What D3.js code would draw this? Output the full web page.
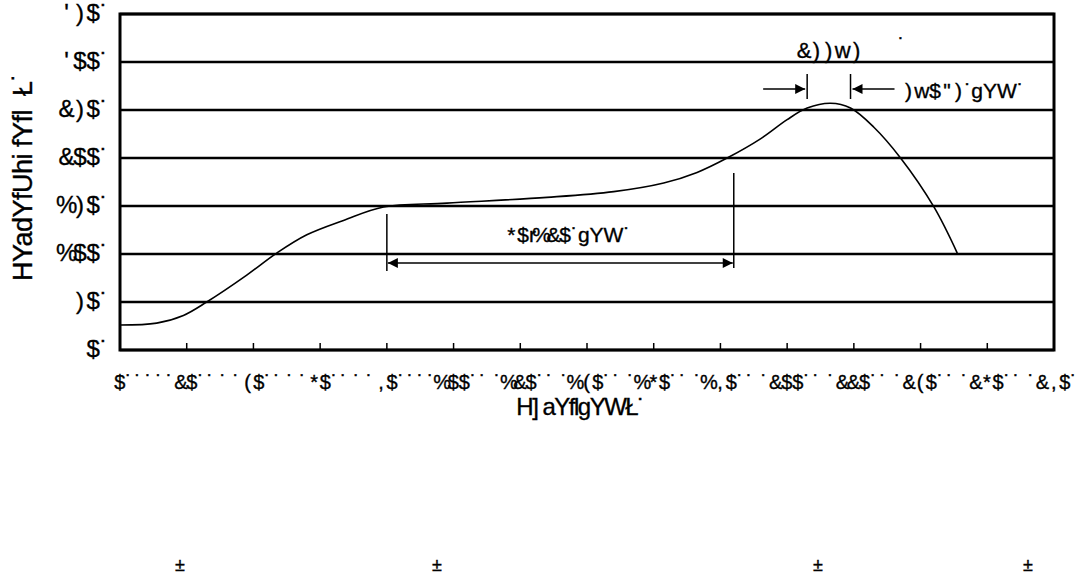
<!DOCTYPE html>
<html>
<head>
<meta charset="utf-8">
<script src="https://cdn.jsdelivr.net/npm/d3@7"></script>
<style>
  body { margin: 0; background: #fff; }
  text { font-family: "Liberation Sans", Arial, sans-serif; fill: #000; stroke: #000; stroke-width: 0.35; white-space: pre; }
</style>
</head>
<body>
<div id="chart"></div>
<script>
// curve: time, temperature
var times = [0, 11, 19, 26, 38, 47, 56, 67, 79, 98, 128, 148, 163, 173, 182, 192, 200, 206, 213, 219, 226, 234, 244, 251]
var temps = [26, 28, 36, 50, 78, 101, 120, 135, 149, 153, 159, 165, 174, 185, 200, 220, 240, 252, 257, 252, 232, 200, 149, 101]

var xTicks = [0, 20, 40, 60, 80, 100, 120, 140, 160, 180, 200, 220, 240, 260, 280]
var yTicks = [0, 50, 100, 150, 200, 250, 300, 350]

var soakSpan = [80, 184]
var soakLabel = '*$r%&$˙gYW˙'
var peakSpan = [206, 219]
var peakLabel = ')w$")˙gYW˙'
var peakTemp = '&))w)'
var xTitle = 'H] aYflgYWŁ˙'
var yTitle = 'HYadYfUhi fYfl  Ł˙'
var footMarks = ['±', '±', '±', '±']
var footPos = [180, 437, 818, 1028]

;(function () {
    var width = 1083, height = 576
    var left = 120, right = 1054, top = 14, bottom = 350

    // the source font shows digits as other glyphs (code point - 12),
    // each still sitting in a fixed digit-width cell
    var cellChars = '$%&\'()*+,-"'
    function glyphs(n) {
        return String(n).replace(/\d/g, function (c) {
            return String.fromCharCode(c.charCodeAt(0) - 12)
        })
    }

    var svg = d3.select('#chart')
        .append('svg')
        .attr('width', width)
        .attr('height', height)

    svg.append('rect').attr('width', width).attr('height', height).attr('fill', '#fff')

    var cache = {}
    function measure(ch, size) {
        var key = ch + size
        if (cache[key] == null) {
            var t = svg.append('text').attr('font-size', size).text(ch)
            cache[key] = t.node().getComputedTextLength()
            t.remove()
        }
        return cache[key]
    }

    // write a string glyph by glyph, digit glyphs centred in their cells
    function cellText(g, str, x0, y0, size, anchor) {
        var cell = size * 0.556, cur = 0, pos = []
        str.split('').forEach(function (ch) {
            var w = cellChars.indexOf(ch) >= 0 ? cell : measure(ch, size)
            pos.push(cur + w / 2)
            cur += w
        })
        var start = anchor === 'end' ? x0 - cur : anchor === 'middle' ? x0 - cur / 2 : x0
        g.append('text')
            .attr('x', pos.map(function (p) { return (start + p).toFixed(1) }).join(' '))
            .attr('y', y0)
            .attr('text-anchor', 'middle')
            .attr('font-size', size)
            .text(str)
        return [start, start + cur]
    }

    var x = d3.scaleLinear().domain([0, 280]).range([left, right])
    var y = d3.scaleLinear().domain([0, 350]).range([bottom, top])

    var defs = svg.append('defs')
    defs.append('marker')
        .attr('id', 'head')
        .attr('viewBox', '0 0 10 10')
        .attr('refX', 10).attr('refY', 5)
        .attr('markerWidth', 15).attr('markerHeight', 10)
        .attr('markerUnits', 'userSpaceOnUse')
        .attr('orient', 'auto-start-reverse')
        .append('path')
        .attr('d', 'M0,0L10,5L0,10Z')
        .attr('fill', '#000')

    // gridlines
    svg.selectAll('.grid')
        .data(yTicks)
        .enter().append('line')
        .attr('class', 'grid')
        .attr('x1', left).attr('x2', right)
        .attr('y1', function (d) { return y(d) })
        .attr('y2', function (d) { return y(d) })
        .attr('stroke', '#000')
        .attr('stroke-width', 2.5)

    // x ticks inward
    svg.selectAll('.xtick')
        .data(xTicks.slice(1, -1))
        .enter().append('line')
        .attr('x1', function (d) { return x(d) })
        .attr('x2', function (d) { return x(d) })
        .attr('y1', bottom).attr('y2', bottom - 7)
        .attr('stroke', '#000')
        .attr('stroke-width', 1.5)

    // frame
    svg.append('rect')
        .attr('x', left).attr('y', top)
        .attr('width', right - left).attr('height', bottom - top)
        .attr('fill', 'none')
        .attr('stroke', '#000')
        .attr('stroke-width', 3)

    // y labels
    var yl = svg.append('g')
    yTicks.forEach(function (d) {
        cellText(yl, glyphs(d) + '˙', 108, y(d) + 7, 24, 'end')
    })

    // x labels, with the dotted filler the source font gives to spaces
    var xl = svg.append('g')
    var spans = xTicks.map(function (d) {
        return cellText(xl, glyphs(d) + '˙', x(d) + 3, 389, 20, 'middle')
    })
    spans.slice(0, -1).forEach(function (s, i) {
        var a = s[1] + 6, b = spans[i + 1][0] - 6
        var n = Math.round((b - a) / 11) + 1
        var dots = n < 2 ? [(a + b) / 2]
            : d3.range(n).map(function (k) { return a + k * (b - a) / (n - 1) })
        xl.append('text')
            .attr('x', dots.map(function (p) { return p.toFixed(1) }).join(' '))
            .attr('y', 389)
            .attr('text-anchor', 'middle')
            .attr('font-size', 20)
            .text(dots.map(function () { return '˙' }).join(''))
    })

    svg.append('text')
        .attr('x', 580).attr('y', 415)
        .attr('text-anchor', 'middle')
        .attr('font-size', 24)
        .attr('letter-spacing', -1.5)
        .text(xTitle)

    svg.append('text')
        .attr('transform', 'translate(32,177) rotate(-90)')
        .attr('text-anchor', 'middle')
        .attr('font-size', 27)
        .attr('letter-spacing', -0.5)
        .text(yTitle)

    // curve
    var pts = times.map(function (t, i) { return [t, temps[i]] })
    svg.append('path')
        .datum(pts)
        .attr('fill', 'none')
        .attr('stroke', '#000')
        .attr('stroke-width', 1.6)
        .attr('d', d3.line()
            .x(function (d) { return x(d[0]) })
            .y(function (d) { return y(d[1]) })
            .curve(d3.curveCatmullRom.alpha(0.5)))

    // soak span
    svg.append('line')
        .attr('x1', x(soakSpan[0])).attr('x2', x(soakSpan[0]))
        .attr('y1', 214).attr('y2', 271)
        .attr('stroke', '#000').attr('stroke-width', 1.5)
    svg.append('line')
        .attr('x1', x(soakSpan[1])).attr('x2', x(soakSpan[1]))
        .attr('y1', 173).attr('y2', 268)
        .attr('stroke', '#000').attr('stroke-width', 1.5)
    svg.append('line')
        .attr('x1', x(soakSpan[0]) + 1).attr('x2', x(soakSpan[1]) - 1)
        .attr('y1', 263).attr('y2', 263)
        .attr('stroke', '#000').attr('stroke-width', 1.5)
        .attr('marker-start', 'url(#head)')
        .attr('marker-end', 'url(#head)')
    cellText(svg, soakLabel, 568, 242, 21, 'middle')

    // peak span
    peakSpan.forEach(function (t) {
        svg.append('line')
            .attr('x1', x(t)).attr('x2', x(t))
            .attr('y1', 74).attr('y2', 99)
            .attr('stroke', '#000').attr('stroke-width', 1.5)
    })
    svg.append('line')
        .attr('x1', x(peakSpan[0]) - 44).attr('x2', x(peakSpan[0]) - 2)
        .attr('y1', 89).attr('y2', 89)
        .attr('stroke', '#000').attr('stroke-width', 1.5)
        .attr('marker-end', 'url(#head)')
    svg.append('line')
        .attr('x1', x(peakSpan[1]) + 44).attr('x2', x(peakSpan[1]) + 2)
        .attr('y1', 89).attr('y2', 89)
        .attr('stroke', '#000').attr('stroke-width', 1.5)
        .attr('marker-end', 'url(#head)')
    cellText(svg, peakLabel, x(peakSpan[1]) + 52, 98, 21, 'start')
    cellText(svg, peakTemp, 798, 58, 22, 'start')
    svg.append('text')
        .attr('x', 898).attr('y', 52)
        .attr('font-size', 20)
        .text('˙')

    // marks at the foot of the page
    svg.selectAll('.foot')
        .data(footMarks)
        .enter().append('text')
        .attr('x', function (d, i) { return footPos[i] })
        .attr('y', 571)
        .attr('text-anchor', 'middle')
        .attr('font-size', 18)
        .text(function (d) { return d })
})()
</script>
</body>
</html>
